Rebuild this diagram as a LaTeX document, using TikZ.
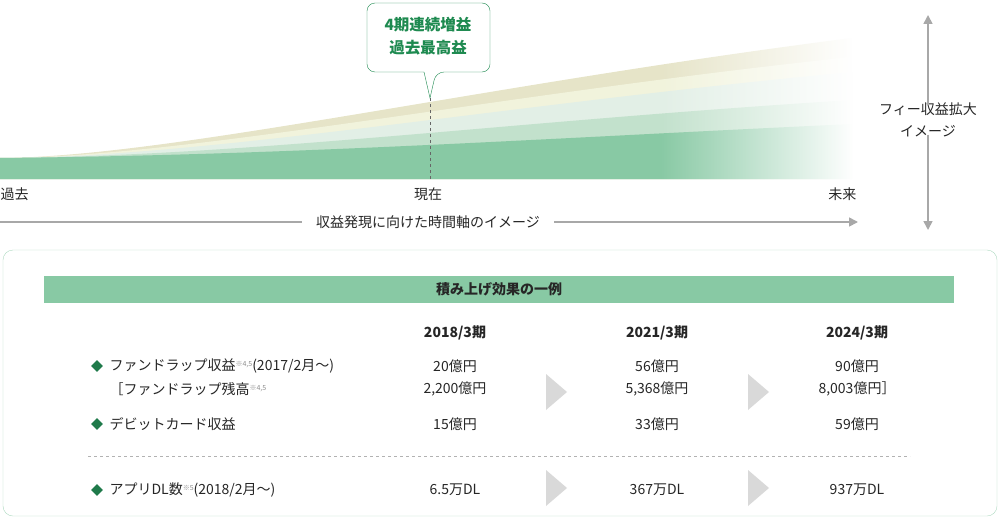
\documentclass[tikz,border=0pt]{standalone}
\usepackage{fontspec}
\setmainfont{Noto Sans CJK JP}
\usetikzlibrary{fadings,arrows.meta,shapes.geometric}
\definecolor{gdark}{HTML}{88C9A4}
\definecolor{glight}{HTML}{C2E1CC}
\definecolor{gpale}{HTML}{E2EFE6}
\definecolor{ypale}{HTML}{F1F3DC}
\definecolor{ytan}{HTML}{E6E4C8}
\definecolor{gtext}{HTML}{1E8A50}
\definecolor{gmark}{HTML}{1F7A4A}
\definecolor{axgray}{HTML}{A8A8A8}
\newcommand{\notemark}[1]{\raisebox{4pt}{\fontsize{7}{8}\selectfont\color{black!45}#1}}
\tikzfading[name=fadeR, left color=transparent!100, right color=transparent!0]
\tikzset{
  axis/.style={draw=axgray, line width=1.6pt, -{Triangle[length=9pt,width=9pt]}},
  lab/.style={font=\fontsize{14}{22}\selectfont, text=black!85},
  yr/.style={font=\fontsize{14}{16}\selectfont\bfseries, text=black!85},
  bullet/.style={fill=gmark, draw=none, inner sep=0pt, minimum size=12pt, diamond},
  chev/.style={fill=black!15, draw=none}
}
\begin{document}
\begin{tikzpicture}[x=1pt,y=-1pt]
    \useasboundingbox (0,0) rectangle (1000,519);

    % growth bands, back to front
    \fill[ytan] (0,158) .. controls (170,157) and (480,85) .. (852,38) -- (852,179) -- (0,179) -- cycle;
    \fill[ypale] (0,158) .. controls (190,157) and (490,95) .. (852,57) -- (852,179) -- (0,179) -- cycle;
    \fill[gpale] (0,158) .. controls (210,157) and (500,105) .. (852,72) -- (852,179) -- (0,179) -- cycle;
    \fill[glight] (0,158) .. controls (250,156) and (500,122) .. (852,100) -- (852,179) -- (0,179) -- cycle;
    \fill[gdark] (0,158) .. controls (300,155) and (550,138) .. (852,124) -- (852,179) -- (0,179) -- cycle;
    \fill[white, path fading=fadeR] (660,20) rectangle (853,182);

    % now marker and bubble
    \coordinate (now) at (430,98);
    \draw[black!60, dashed, thin] (now) -- (430,179);
    \draw[gtext, fill=white, rounded corners=8pt] (367,3) -- (490,3) -- (490,72)
      -- (436,72) [sharp corners] -- (now) -- (424,72) [rounded corners=8pt] -- (367,72) -- cycle;
    \node[font=\fontsize{15.5}{23}\selectfont\bfseries, text=gtext, align=center] (bubble) at (428,36) {4期連続増益\\過去最高益};

    % time axis
    \node[lab, anchor=west] (past) at (-3,194) {過去};
    \node[lab] (present) at (428,194) {現在};
    \node[lab, anchor=east] (future) at (860,194) {未来};
    \node[lab, fill=white, inner xsep=14pt] (tline) at (428,222) {収益発現に向けた時間軸のイメージ};
    \coordinate (t0) at (0,222);
    \coordinate (t1) at (858,222);
    \draw[draw=axgray, line width=1.6pt] (t0) -- (tline.west);
    \draw[axis] (tline.east) -- (t1);

    % fee axis
    \node[lab, align=center] (fee) at (928,120) {フィー収益拡大\\イメージ};
    \coordinate (f0) at (928,15);
    \coordinate (f1) at (928,230);
    \draw[axis] ([yshift=-6pt]fee.north) -- (f0);
    \draw[axis] ([yshift=6pt]fee.south) -- (f1);

    % table box
    \draw[gdark!70, rounded corners=10pt] (3,250) rectangle (997,516);
    \fill[gdark] (44,276) rectangle (954,303);
    \node[yr] (title) at (499,289.5) {積み上げ効果の一例};

    \node[yr] (y1) at (455,333) {2018/3期};
    \node[yr] (y2) at (657,333) {2021/3期};
    \node[yr] (y3) at (857,333) {2024/3期};

    \node[bullet] (m1) at (97,366) {};
    \node[bullet] (m2) at (97,424) {};
    \node[bullet] (m3) at (97,490) {};
    \node[lab, anchor=west] (r1) at (106,366) {ファンドラップ収益\notemark{※4,5}(2017/2月～)};
    \node[lab, anchor=west] (r2) at (106,389) {［ファンドラップ残高\notemark{※4,5}};
    \node[lab, anchor=west] (r3) at (106,424) {デビットカード収益};
    \node[lab, anchor=west] (r4) at (106,490) {アプリDL数\notemark{※5}(2018/2月～)};

    \node[lab] (a1) at (455,366) {20億円};
    \node[lab] (a2) at (455,389) {2,200億円};
    \node[lab] (a3) at (455,424) {15億円};
    \node[lab] (a4) at (455,490) {6.5万DL};
    \node[lab] (b1) at (657,366) {56億円};
    \node[lab] (b2) at (657,389) {5,368億円};
    \node[lab] (b3) at (657,424) {33億円};
    \node[lab] (b4) at (657,490) {367万DL};
    \node[lab] (c1) at (857,366) {90億円};
    \node[lab] (c2) at (857,389) {8,003億円］};
    \node[lab] (c3) at (857,424) {59億円};
    \node[lab] (c4) at (857,490) {937万DL};

    \coordinate (d0) at (88,456);
    \coordinate (d1) at (910,456);
    \draw[black!30, dashed, thin] (d0) -- (d1);

    % chevrons
    \foreach \cx in {546,748} {
      \fill[chev] (\cx,374) -- (\cx+21,392) -- (\cx,410) -- cycle;
      \fill[chev] (\cx,470) -- (\cx+21,488) -- (\cx,506) -- cycle;
    }
\end{tikzpicture}
\end{document}
